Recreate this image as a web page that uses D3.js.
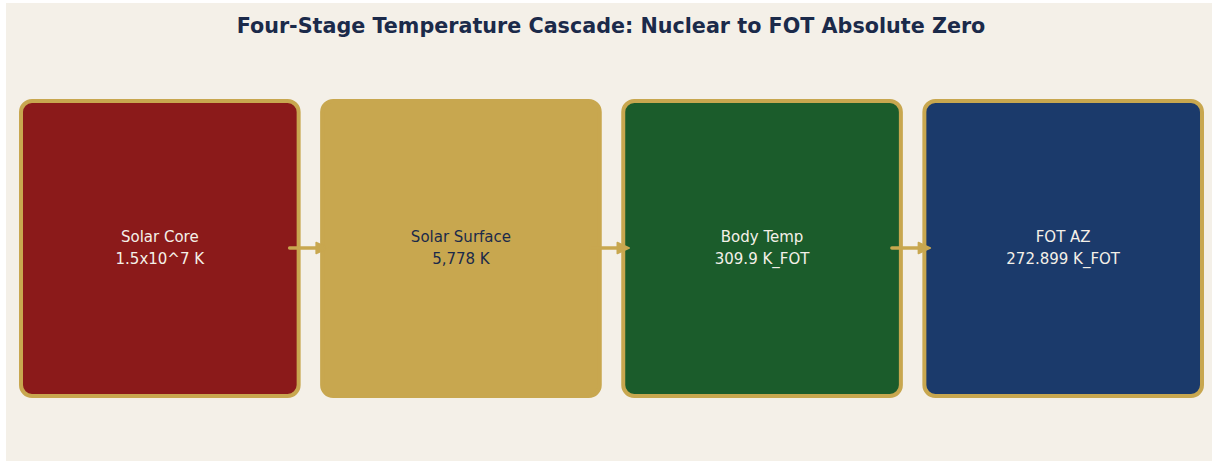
<!DOCTYPE html>
<html>
<head>
<meta charset="utf-8">
<script src="https://cdn.jsdelivr.net/npm/d3@7"></script>
<style>
  body { margin: 0; background: #ffffff; }
  svg { display: block; }
</style>
</head>
<body>
<div id="chart"></div>
<script>
var width = 1213, height = 461;

// stages of the cascade
var stages = ["Solar Core", "Solar Surface", "Body Temp", "FOT AZ"];
var temps = ["1.5x10^7 K", "5,778 K", "309.9 K_FOT", "272.899 K_FOT"];
var fills = ["#8B1A1A", "#C8A74F", "#1B5C2B", "#1B3A6B"];
var textColors = ["#F4F0E8", "#1B2A4A", "#F4F0E8", "#F4F0E8"];

var gold = "#C8A74F";

var svg = d3.select("#chart").append("svg")
    .attr("width", width)
    .attr("height", height);

// panel background
svg.append("rect")
    .attr("x", 6).attr("y", 3)
    .attr("width", width - 7).attr("height", height - 3)
    .attr("fill", "#F4F0E8");

svg.append("text")
    .attr("x", 611)
    .attr("y", 33)
    .attr("text-anchor", "middle")
    .style("font-family", "DejaVu Sans")
    .style("font-weight", "bold")
    .style("font-size", "20.7px")
    .style("fill", "#1B2A4A")
    .text("Four-Stage Temperature Cascade: Nuclear to FOT Absolute Zero");

var x = d3.scaleBand()
    .domain(stages)
    .range([21, 1202])
    .paddingInner(0.078)
    .paddingOuter(0);

var y = d3.scaleLinear().domain([0, 1]).range([396, 101]);

var data = stages.map(function(s, i) {
  return {name: s, temp: temps[i], fill: fills[i], tc: textColors[i]};
});

var links = d3.pairs(data);
var midY = 248;

var cell = svg.selectAll(".box")
    .data(data)
    .enter().append("g")
    .attr("class", "box")
    .attr("transform", function(d) { return "translate(" + x(d.name) + "," + y(1) + ")"; });

cell.append("rect")
    .attr("width", x.bandwidth())
    .attr("height", y(0) - y(1))
    .attr("rx", 11).attr("ry", 11)
    .attr("fill", function(d) { return d.fill; })
    .attr("stroke", gold)
    .attr("stroke-width", 4);

cell.append("text")
    .attr("x", x.bandwidth() / 2)
    .attr("y", midY - y(1) - 6)
    .attr("text-anchor", "middle")
    .style("font-family", "DejaVu Sans")
    .style("font-size", "15px")
    .style("fill", function(d) { return d.tc; })
    .text(function(d) { return d.name; });

cell.append("text")
    .attr("x", x.bandwidth() / 2)
    .attr("y", midY - y(1) + 16)
    .attr("text-anchor", "middle")
    .style("font-family", "DejaVu Sans")
    .style("font-size", "15px")
    .style("fill", function(d) { return d.tc; })
    .text(function(d) { return d.temp; });

// arrows on top of the boxes
var arrowG = svg.selectAll(".arrow")
    .data(links)
    .enter().append("g")
    .attr("class", "arrow");

arrowG.append("line")
    .attr("x1", function(d) { return x(d[0].name) + x.bandwidth() - 9; })
    .attr("x2", function(d) { return x(d[1].name) - 2; })
    .attr("y1", midY).attr("y2", midY)
    .attr("stroke", gold)
    .attr("stroke-width", 3.5)
    .attr("stroke-linecap", "round");

arrowG.append("path")
    .attr("d", function(d) {
      var tip = x(d[1].name) + 6;
      return "M" + tip + "," + midY + "L" + (tip - 12) + "," + (midY - 5.5) +
             "L" + (tip - 12) + "," + (midY + 5.5) + "Z";
    })
    .attr("fill", gold)
    .attr("stroke", gold)
    .attr("stroke-width", 1.5)
    .attr("stroke-linejoin", "round");
</script>
</body>
</html>
